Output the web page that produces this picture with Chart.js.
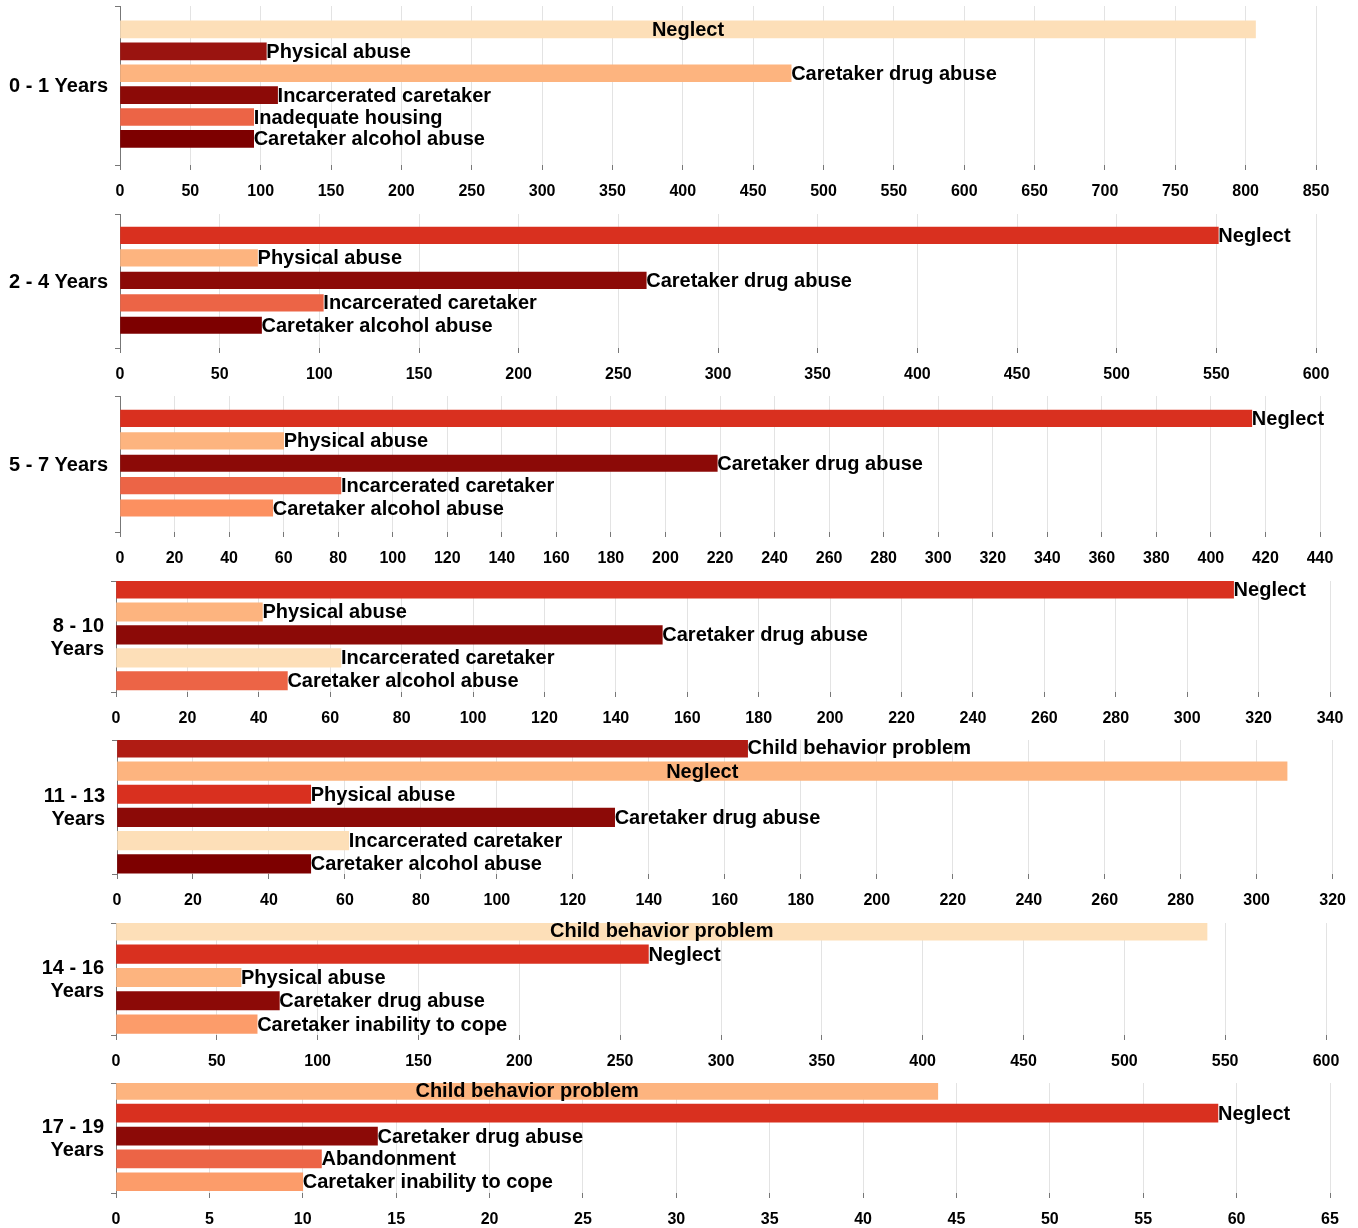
<!DOCTYPE html>
<html>
<head>
<meta charset="utf-8">
<script src="https://cdn.jsdelivr.net/npm/chart.js@4.4.1/dist/chart.umd.min.js"></script>
<style>
  html, body { margin: 0; padding: 0; background: #fff; overflow: hidden; }
  #wrap { position: relative; width: 1358px; height: 1228px; }
  #wrap canvas { position: absolute; left: 0; }
</style>
</head>
<body>
<div id="wrap"></div>
<script>
// age groups, one label per panel (arrays = lines)
const ageGroups = [['0 - 1 Years'], ['2 - 4 Years'], ['5 - 7 Years'], ['8 - 10', 'Years'],
  ['11 - 13', 'Years'], ['14 - 16', 'Years'], ['17 - 19', 'Years']];

const reasons0to1 = ['Neglect', 'Physical abuse', 'Caretaker drug abuse', 'Incarcerated caretaker', 'Inadequate housing', 'Caretaker alcohol abuse'];
const counts0to1 = [807, 104, 477, 112, 95, 95];

const reasons2to4 = ['Neglect', 'Physical abuse', 'Caretaker drug abuse', 'Incarcerated caretaker', 'Caretaker alcohol abuse'];
const counts2to4 = [551, 69, 264, 102, 71];

const reasons5to7 = ['Neglect', 'Physical abuse', 'Caretaker drug abuse', 'Incarcerated caretaker', 'Caretaker alcohol abuse'];
const counts5to7 = [415, 60, 219, 81, 56];

const reasons8to10 = ['Neglect', 'Physical abuse', 'Caretaker drug abuse', 'Incarcerated caretaker', 'Caretaker alcohol abuse'];
const counts8to10 = [313, 41, 153, 63, 48];

const reasons11to13 = ['Child behavior problem', 'Neglect', 'Physical abuse', 'Caretaker drug abuse', 'Incarcerated caretaker', 'Caretaker alcohol abuse'];
const counts11to13 = [166, 308, 51, 131, 61, 51];

const reasons14to16 = ['Child behavior problem', 'Neglect', 'Physical abuse', 'Caretaker drug abuse', 'Caretaker inability to cope'];
const counts14to16 = [541, 264, 62, 81, 70];

const reasons17to19 = ['Child behavior problem', 'Neglect', 'Caretaker drug abuse', 'Abandonment', 'Caretaker inability to cope'];
const counts17to19 = [44, 59, 14, 11, 10];

// x axis tick range per panel
const axisMax = [850, 600, 440, 340, 320, 600, 65];
const axisStep = [50, 50, 20, 20, 20, 50, 5];

const reasons = [reasons0to1, reasons2to4, reasons5to7, reasons8to10, reasons11to13, reasons14to16, reasons17to19];
const counts = [counts0to1, counts2to4, counts5to7, counts8to10, counts11to13, counts14to16, counts17to19];

// colours
const C = {
  light: '#fddfb8', peach: '#fdb47f', orange: '#fc9c6a', orange2: '#fc9060', coral: '#ec6446',
  red: '#d9301f', crimson: '#b01c14', dark: '#9a1410', maroon: '#8c0a07', deep: '#7d0000'
};

// panel placement and styling
const panels = [
  { top: 6,   bottom: 165,  left: 120, right: 1316, yMin: -1.07, yMax: 6.19, bar: 17,
    colors: [C.light, C.dark, C.peach, C.maroon, C.coral, C.deep], centered: [0] },
  { top: 214, bottom: 348,  left: 120, right: 1316, yMin: -0.95, yMax: 5.01, bar: 16.5,
    colors: [C.red, C.peach, C.maroon, C.coral, C.deep], centered: [] },
  { top: 396, bottom: 532,  left: 120, right: 1320, yMin: -1.0, yMax: 5.07, bar: 16.5,
    colors: [C.red, C.peach, C.maroon, C.coral, C.orange2], centered: [] },
  { top: 581, bottom: 692,  left: 116, right: 1330, yMin: -0.35, yMax: 4.49, bar: 18.5,
    colors: [C.red, C.peach, C.maroon, C.light, C.coral], centered: [] },
  { top: 740, bottom: 874,  left: 117, right: 1333, yMin: -0.34, yMax: 5.44, bar: 18.5,
    colors: [C.crimson, C.peach, C.red, C.maroon, C.light, C.deep], centered: [1] },
  { top: 923, bottom: 1035, left: 116, right: 1326, yMin: -0.34, yMax: 4.47, bar: 18.5,
    colors: [C.light, C.red, C.peach, C.maroon, C.orange], centered: [0] },
  { top: 1083, bottom: 1193, left: 116, right: 1330, yMin: -0.32, yMax: 4.49, bar: 18,
    colors: [C.peach, C.red, C.maroon, C.coral, C.orange], centered: [0] }
];

const FONT = '"Liberation Sans", Arial, sans-serif';
const PAD_TOP = 4;
const X_AXIS_H = 40;

const labelPlugin = {
    id: 'labelPlugin',
    afterDatasetsDraw(chart, args, opts) {
        const ctx = chart.ctx;
        const meta = chart.getDatasetMeta(0);
        ctx.save();
        ctx.fillStyle = '#000';
        ctx.textBaseline = 'middle';
        ctx.font = 'bold 20px ' + FONT;
        meta.data.forEach((bar, i) => {
            const text = chart.data.labels[i];
            if (opts.centered.includes(i)) {
                ctx.textAlign = 'center';
                ctx.fillText(text, (bar.base + bar.x) / 2, bar.y + 1);
            } else {
                ctx.textAlign = 'left';
                ctx.fillText(text, bar.x, bar.y + 1);
            }
        });

        // age group label to the left of the axis
        const area = chart.chartArea;
        const lines = opts.group;
        const lh = 23;
        const cy = (area.top + area.bottom) / 2 - (lines.length - 1) * lh / 2;
        ctx.textAlign = 'right';
        ctx.font = 'bold 20px ' + FONT;
        lines.forEach((line, k) => ctx.fillText(line, area.left - 12, cy + k * lh + 1));
        ctx.restore();
    }
};

function renderPanel(idx) {
    const p = panels[idx];
    const canvas = document.createElement('canvas');
    const h = p.bottom - p.top + PAD_TOP + X_AXIS_H;
    canvas.width = 1358;
    canvas.height = h;
    canvas.style.width = '1358px';
    canvas.style.height = h + 'px';
    canvas.style.top = (p.top - PAD_TOP) + 'px';
    document.getElementById('wrap').appendChild(canvas);

    new Chart(canvas.getContext('2d'), {
        type: 'bar',
        data: {
            labels: reasons[idx],
            datasets: [{
                data: counts[idx].map((v, i) => ({ x: v, y: i })),
                backgroundColor: p.colors,
                borderWidth: 0,
                barThickness: p.bar
            }]
        },
        options: {
            indexAxis: 'y',
            responsive: false,
            animation: false,
            devicePixelRatio: 1,
            layout: { padding: { top: PAD_TOP, right: 1358 - p.right, left: 0, bottom: 0 } },
            plugins: {
                legend: { display: false },
                tooltip: { enabled: false },
                labelPlugin: { centered: p.centered, group: ageGroups[idx] }
            },
            scales: {
                x: {
                    type: 'linear',
                    min: 0,
                    max: axisMax[idx],
                    ticks: {
                        stepSize: axisStep[idx],
                        color: '#000',
                        padding: 12,
                        font: { family: FONT, size: 16, weight: 'bold' }
                    },
                    grid: { color: '#e3e3e3', tickColor: '#777', tickLength: 5, drawTicks: true },
                    border: { display: false },
                    afterFit: (s) => { s.height = X_AXIS_H; }
                },
                y: {
                    type: 'linear',
                    reverse: true,
                    offset: false,
                    min: p.yMin,
                    max: p.yMax,
                    afterBuildTicks: (s) => { s.ticks = [{ value: s.min }, { value: s.max }]; },
                    ticks: { display: false },
                    grid: { offset: false, drawOnChartArea: false, drawTicks: true, tickLength: 5, tickColor: '#777' },
                    border: { display: true, color: '#777', width: 1 },
                    afterFit: (s) => { s.width = p.left; }
                }
            }
        },
        plugins: [labelPlugin]
    });
}

panels.forEach((p, i) => renderPanel(i));
</script>
</body>
</html>
